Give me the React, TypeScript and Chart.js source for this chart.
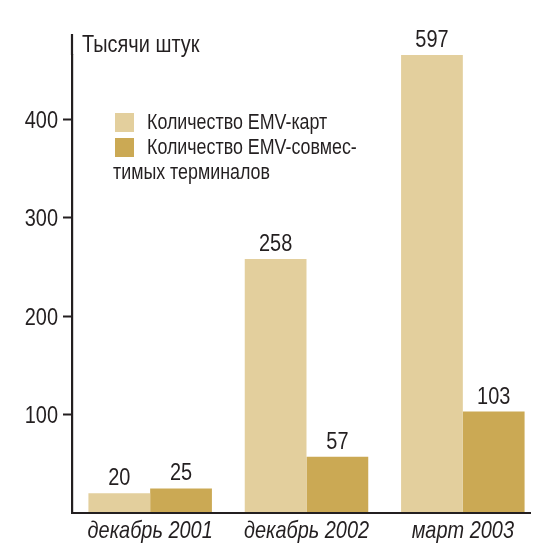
import React, { useEffect, useRef } from 'react';
import Chart from 'chart.js/auto';

// === Data ===
const PERIODS = ['декабрь 2001', 'декабрь 2002', 'март 2003'];
const CARDS = [20, 258, 597];
const TERMINALS = [25, 57, 103];
const Y_TICKS = [100, 200, 300, 400];
const SERIES_LINES = [
  ['Количество EMV-карт'],
  ['Количество EMV-совмес-', 'тимых терминалов'],
];
const UNIT = 'Тысячи штук';

// верх шкалы: столбец 597 обрезается, как в оригинале
const Y_MAX = 465;

const COLORS = ['#E3CF9D', '#CBA954'];
const INK = '#231F20';
const FONT = '"Liberation Sans", Arial, sans-serif';
// сжатие по ширине — имитация узкого гротеска
const SX = 0.83;

const drawText = (ctx: CanvasRenderingContext2D, text: string, x: number, y: number, align: CanvasTextAlign) => {
  ctx.save();
  ctx.translate(x, y);
  ctx.scale(SX, 1);
  ctx.textAlign = align;
  ctx.textBaseline = 'alphabetic';
  ctx.fillText(text, 0, 0);
  ctx.restore();
};

const decorPlugin = {
  id: 'decor',
  afterDatasetsDraw(chart: any) {
    const { ctx, chartArea, scales } = chart;
    const { left, top, bottom, right } = chartArea;
    ctx.save();
    ctx.fillStyle = INK;

    // подписи значений над столбцами
    ctx.font = `24px ${FONT}`;
    chart.data.datasets.forEach((ds: any, i: number) => {
      chart.getDatasetMeta(i).data.forEach((bar: any, j: number) => {
        const y = Math.max(bar.y, top);
        drawText(ctx, String(ds.data[j]), bar.x, y - 8, 'center');
      });
    });

    // подписи шкалы Y
    Y_TICKS.forEach(v => {
      drawText(ctx, String(v), left - 14, scales.y.getPixelForValue(v) + 8.5, 'right');
    });

    // подписи шкалы X
    ctx.font = `italic 24px ${FONT}`;
    PERIODS.forEach((p, i) => {
      drawText(ctx, p, scales.x.getPixelForValue(i), bottom + 25, 'center');
    });

    // ось X (короче области графика справа)
    ctx.strokeStyle = INK;
    ctx.lineWidth = 2.2;
    ctx.beginPath();
    ctx.moveTo(left - 1, bottom);
    ctx.lineTo(right - 10, bottom);
    ctx.stroke();

    // продолжение оси Y вверх
    ctx.beginPath();
    ctx.moveTo(left, top - 21);
    ctx.lineTo(left, top);
    ctx.stroke();

    // единицы
    ctx.font = `24px ${FONT}`;
    drawText(ctx, UNIT, left + 10, top - 3, 'left');

    // легенда
    ctx.font = `21.5px ${FONT}`;
    const lx = left + 43;
    SERIES_LINES.forEach((lines, i) => {
      const by = 113 + i * 25;
      ctx.fillStyle = COLORS[i];
      ctx.fillRect(lx, by, 19, 19);
      ctx.fillStyle = INK;
      lines.forEach((line, k) => {
        if (k === 0) drawText(ctx, line, lx + 32, by + 16, 'left');
        else drawText(ctx, line, lx - 2, by + 16 + 25 * k, 'left');
      });
    });

    ctx.restore();
  },
};

const App: React.FC = () => {
  const canvasRef = useRef<HTMLCanvasElement>(null);

  useEffect(() => {
    if (!canvasRef.current) return;
    const chart = new Chart(canvasRef.current, {
      type: 'bar',
      data: {
        labels: PERIODS,
        datasets: [
          { label: SERIES_LINES[0].join(''), data: CARDS, backgroundColor: COLORS[0] },
          { label: SERIES_LINES[1].join(''), data: TERMINALS, backgroundColor: COLORS[1] },
        ],
      },
      options: {
        animation: false,
        responsive: true,
        maintainAspectRatio: false,
        layout: { padding: { top: 55, right: 14, left: 0, bottom: 0 } },
        datasets: { bar: { categoryPercentage: 0.79, barPercentage: 1 } },
        plugins: { legend: { display: false }, tooltip: { enabled: false } },
        scales: {
          x: {
            grid: { display: false, drawTicks: false },
            border: { display: false },
            ticks: { color: 'rgba(0,0,0,0)', font: { family: FONT, size: 20 } },
            afterFit: (s: any) => { s.height = 45; },
          },
          y: {
            min: 0,
            max: Y_MAX,
            afterBuildTicks: (s: any) => { s.ticks = Y_TICKS.map(v => ({ value: v })); },
            afterFit: (s: any) => { s.width = 72; },
            grid: { drawOnChartArea: false, tickLength: 9, tickWidth: 2, tickColor: INK },
            border: { color: INK, width: 2.2 },
            ticks: { padding: 5, color: 'rgba(0,0,0,0)', font: { family: FONT, size: 20 } },
          },
        },
      },
      plugins: [decorPlugin],
    });
    return () => chart.destroy();
  }, []);

  return (
    <div style={{ position: 'fixed', left: 0, top: 0, width: 555, height: 558, background: '#fff' }}>
      <canvas ref={canvasRef} />
    </div>
  );
};

export default App;
